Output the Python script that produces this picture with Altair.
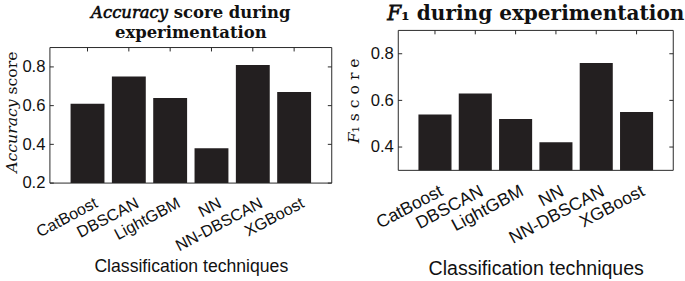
import altair as alt
import pandas as pd

categories = ["CatBoost", "DBSCAN", "LightGBM", "NN", "NN-DBSCAN", "XGBoost"]
accuracy = [0.61, 0.75, 0.64, 0.38, 0.81, 0.67]
f1 = [0.54, 0.63, 0.52, 0.42, 0.76, 0.55]
acc_ticks = [0.2, 0.4, 0.6, 0.8]
f1_ticks = [0.4, 0.6, 0.8]
acc_domain = [0.2, 0.9]
f1_domain = [0.3, 0.9]

FRAME = "#262626"
BAR = "#231f20"
SANS = "Liberation Sans"
SERIF = "DejaVu Serif"


def panel(values, ticks, domain, title, ytitle, w, h, top, tsize, tdy,
          lsize, loff, lpad, xtsize, xtpad, ytsize, ytpad, ytitle_y):
    df = pd.DataFrame({"cat": categories, "val": values})
    tdf = pd.DataFrame({"val": ticks})
    box = pd.DataFrame({"k": [0]})
    x = alt.X(
        "cat:N", sort=categories,
        scale=alt.Scale(paddingInner=0.18, paddingOuter=0.5),
        axis=alt.Axis(
            title="Classification techniques", labelAngle=-28,
            labelAlign="right", labelBaseline="middle", ticks=False,
            domain=False, labelFont=SANS, labelFontSize=lsize,
            labelColor="#111", labelPadding=lpad, labelOffset=loff,
            titleFont=SANS, titleFontSize=xtsize, titleFontWeight="normal",
            titleColor="#111", titlePadding=xtpad,
        ),
    )
    yaxis = dict(
        values=ticks, format=".1f", title=ytitle, grid=False,
        ticks=False, domain=False, labelFont=SANS, labelFontSize=17,
        labelColor="#111", labelPadding=5,
        titleFont=SERIF, titleFontSize=ytsize, titleFontWeight="normal",
        titleColor="#111", titlePadding=ytpad,
    )
    if ytitle_y is not None:
        yaxis["titleY"] = ytitle_y
    y = alt.Y(
        "val:Q",
        scale=alt.Scale(domain=domain, nice=False, zero=False, range=[h, top]),
        axis=alt.Axis(**yaxis),
    )
    bars = alt.Chart(df).mark_bar(color=BAR, clip=True).encode(x=x, y=y)
    lt = alt.Chart(tdf).mark_rule(color=FRAME).encode(
        y=alt.Y("val:Q"), x=alt.value(0), x2=alt.value(4))
    rt = alt.Chart(tdf).mark_rule(color=FRAME).encode(
        y=alt.Y("val:Q"), x=alt.value(w - 4), x2=alt.value(w))
    tt = alt.Chart(df).mark_rule(color=FRAME).encode(
        x=alt.X("cat:N", sort=categories), y=alt.value(top),
        y2=alt.value(top + 4))
    frame = alt.Chart(box).mark_rect(
        fill="transparent", stroke=FRAME, strokeWidth=1).encode(
        x=alt.value(0), x2=alt.value(w), y=alt.value(top), y2=alt.value(h))
    return alt.layer(bars, lt, rt, tt, frame).properties(
        width=w, height=h,
        view=alt.ViewBackground(stroke="transparent"),
        title=alt.TitleParams(
            text=title, font=SERIF, fontSize=tsize, fontWeight="bold",
            lineHeight=20, offset=6, dy=tdy, anchor="middle", color="#111"),
    )


left = panel(accuracy, acc_ticks, acc_domain,
             ["𝐴𝑐𝑐𝑢𝑟𝑎𝑐𝑦 score during", "experimentation"],
             "𝐴𝑐𝑐𝑢𝑟𝑎𝑐𝑦 score", 288, 156, 17.5, 16.8, 17.5,
             16.5, 9, 19, 18, 4, 16, 3, 83)
right = panel(f1, f1_ticks, f1_domain,
              "𝐹₁ during experimentation",
              "𝐹₁  s c o r e", 281, 143, 0, 20.5, 0,
              18, 7, 20, 20, 12, 16, 9, None)

chart = alt.hconcat(left, right, spacing=12).properties(
    padding={"left": 2, "top": 0, "right": 0, "bottom": 0}
).configure_view(stroke="transparent")

chart.save("out.html", embed_options={"renderer": "svg", "actions": False})
